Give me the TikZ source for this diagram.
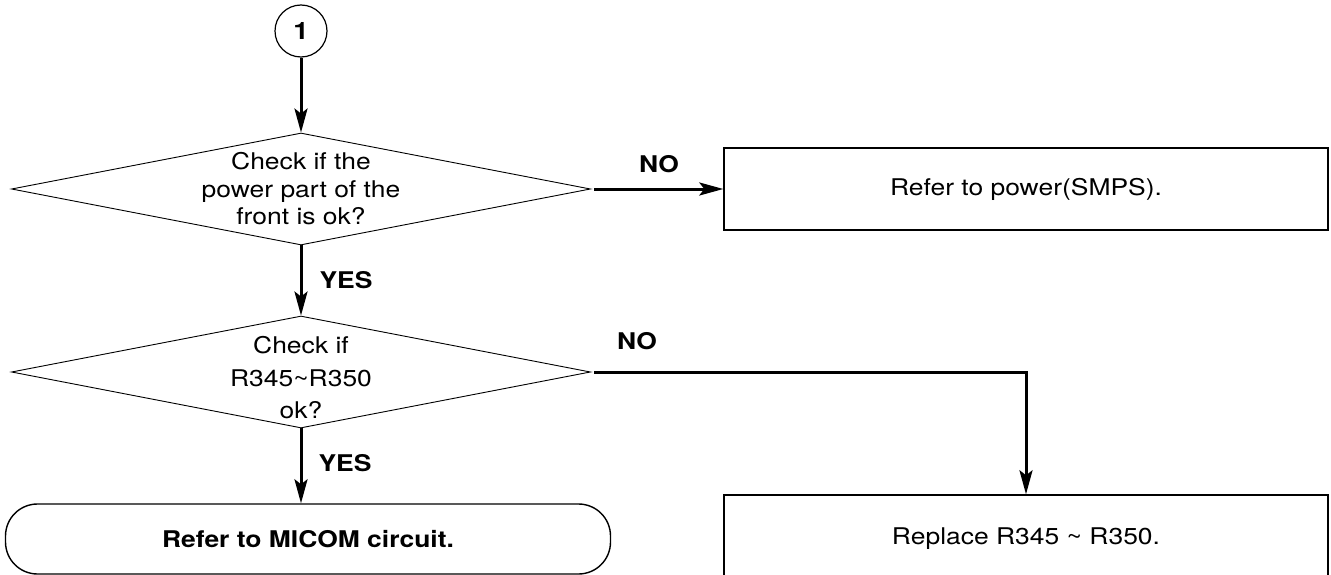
\documentclass[tikz,border=0pt]{standalone}
\usepackage{fontspec}
\setmainfont{TeX Gyre Heros}[FakeStretch=1.15]
\usetikzlibrary{shapes.geometric,arrows.meta}
\begin{document}
\begin{tikzpicture}[x=1pt,y=-1pt,
  every node/.style={font=\fontsize{23}{27}\selectfont},
  diam/.style={diamond,draw,line width=0.9pt,inner sep=0pt,minimum width=579pt,minimum height=112pt},
  boxnode/.style={rectangle,draw,line width=1.4pt,inner sep=0pt,minimum width=604pt},
  termnode/.style={rectangle,draw,line width=1.4pt,rounded corners=32pt,inner sep=0pt,minimum width=605pt,minimum height=70pt,font=\fontsize{23}{27}\selectfont\bfseries},
  circnode/.style={circle,draw,line width=1.2pt,minimum size=52pt,inner sep=0pt,font=\fontsize{24}{27}\selectfont\bfseries},
  conn/.style={line width=3pt,-{Stealth[length=24pt,width=13pt,inset=5pt]}},
  lbl/.style={font=\fontsize{23}{27}\selectfont\bfseries}]
\useasboundingbox (0,0) rectangle (1331,575);
\clip (0,0) rectangle (1331,575);
\fill[white] (0,0) rectangle (1331,575);
\node[circnode] (c1) at (301,31) {1};
\node[diam] (d1) at (301,189) {};
\node[align=center,font=\fontsize{23}{27.5}\selectfont] (t1) at (301,189) {Check if the\\power part of the\\front is ok?};
\node[diam] (d2) at (301,372) {};
\node[align=center,font=\fontsize{23}{32.5}\selectfont] (t2) at (301,378) {Check if\\R345\char`\~R350\\ok?};
\node[boxnode,minimum height=82pt] (b1) at (1026,189) {Refer to power(SMPS).};
\node[boxnode,minimum height=88pt] (b2) at (1026,539) {Replace R345 \char`\~{} R350.};
\node[termnode] (term) at (308,539) {Refer to MICOM circuit.};
\draw[conn] (c1.south) -- (d1.north);
\draw[conn] ([xshift=3pt]d1.east) -- (b1.west);
\draw[conn] (d1.south) -- (d2.north);
\draw[conn] ([xshift=3pt]d2.east) -| (b2.north);
\draw[conn] (d2.south) -- (d2.south |- term.north);
\node[lbl] (no1) at (659,164) {NO};
\node[lbl] (yes1) at (346,280) {YES};
\node[lbl] (no2) at (637,341) {NO};
\node[lbl] (yes2) at (345,463) {YES};
\end{tikzpicture}
\end{document}
